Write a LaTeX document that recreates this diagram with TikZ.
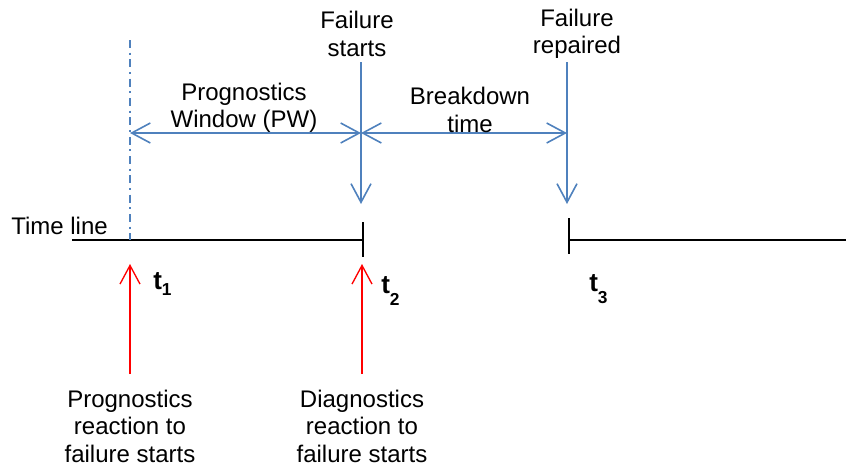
\documentclass[tikz,border=0pt]{standalone}
\usepackage{fontspec}
\setmainfont{Liberation Sans}
\usetikzlibrary{arrows.meta}
\definecolor{lineblue}{RGB}{79,129,189}
\newcommand{\tsub}[2]{t\raisebox{-#1}{\fontsize{13}{14}\selectfont #2}}
\tikzset{
  lbl/.style={font=\fontsize{18}{20.6}\selectfont, align=center, inner sep=0pt},
  tlbl/.style={font=\fontsize{19.5}{20}\selectfont\bfseries, inner sep=0pt, anchor=base west},
  bluearr/.style={draw=lineblue, line width=1.2pt, -{Straight Barb[length=14pt,width=15pt,line width=1.2pt]}},
  bluedbl/.style={draw=lineblue, line width=1.2pt, {Straight Barb[length=14pt,width=15pt,line width=1.2pt]}-{Straight Barb[length=14pt,width=15pt,line width=1.2pt]}},
  redarr/.style={draw=red, line width=1pt, -{Straight Barb[length=14pt,width=15pt,line width=1pt]}},
  tline/.style={draw=black, line width=1pt},
}
\begin{document}
\begin{tikzpicture}[x=0.75pt, y=-0.75pt]
  \useasboundingbox (0,0) rectangle (846,468);

  % time line segments and ticks
  \coordinate (L0) at (72,240);
  \coordinate (T2) at (363,240);
  \coordinate (T3) at (569,240);
  \coordinate (R0) at (846,240);
  \draw[tline] (L0) -- (T2);
  \draw[tline] (363,222) -- (363,257);
  \draw[tline] (T3) -- (R0);
  \draw[tline] (569,218) -- (569,254);
  \node[lbl, anchor=base west] (tl) at (11,234) {Time line};

  % prognostics start marker
  \coordinate (P1top) at (130,40);
  \coordinate (P1) at (130,240);
  \draw[draw=lineblue, line width=1.1pt, dash pattern=on 6pt off 3.5pt on 1.5pt off 3.5pt] (P1top) -- (P1);

  % intervals
  \coordinate (A1) at (130,133);
  \coordinate (A2) at (361,133);
  \coordinate (A3) at (567,133);
  \draw[bluedbl] (A1) -- (A2);
  \draw[bluedbl] (A2) -- (A3);
  \node[lbl] (pw) at (244,108) {Prognostics\\Window (PW)};
  \node[lbl] (bd) at (470,110) {Breakdown\\time};

  % failure events
  \node[lbl] (fs) at (357,34) {Failure\\starts};
  \node[lbl] (fr) at (577,34) {Failure\\repaired};
  \coordinate (F2a) at (361,62);
  \coordinate (F2b) at (361,204);
  \coordinate (F3a) at (567,62);
  \coordinate (F3b) at (567,204);
  \draw[bluearr] (F2a) -- (F2b);
  \draw[bluearr] (F3a) -- (F3b);

  % time labels
  \node[tlbl] (t1) at (153,289) {\tsub{4.5pt}{1}};
  \node[tlbl] (t2) at (381,293) {\tsub{9pt}{2}};
  \node[tlbl] (t3) at (589,291) {\tsub{9.5pt}{3}};

  % reactions
  \node[lbl] (pr) at (130,426) {Prognostics\\reaction to\\failure starts};
  \node[lbl] (dr) at (362,426) {Diagnostics\\reaction to\\failure starts};
  \coordinate (R1a) at (130,374);
  \coordinate (R1b) at (130,264);
  \coordinate (R2a) at (362,374);
  \coordinate (R2b) at (362,264);
  \draw[redarr] (R1a) -- (R1b);
  \draw[redarr] (R2a) -- (R2b);
\end{tikzpicture}
\end{document}
